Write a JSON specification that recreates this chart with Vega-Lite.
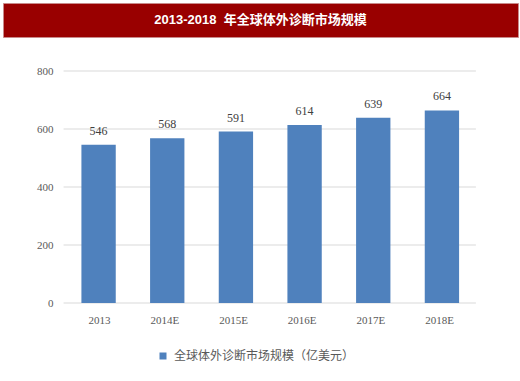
{
  "$schema": "https://vega.github.io/schema/vega-lite/v6.json",
  "background": "white",
  "padding": {"left": 2, "top": 2, "right": 0, "bottom": 0},
  "vconcat": [
    {
      "width": 515,
      "height": 34,
      "view": {"fill": "#990000", "stroke": "#c98a8a", "strokeWidth": 1},
      "data": {"values": [{"t": "2013-2018\u00a0\u00a0年全球体外诊断市场规模"}]},
      "mark": {"type": "text", "color": "white", "fontWeight": "bold", "fontSize": 13, "font": "Liberation Sans, Noto Sans CJK SC"},
      "encoding": {"text": {"field": "t"}}
    },
    {
      "width": 515,
      "height": 232,
      "layer": [
        {
          "data": {"values": [{"v": 0}, {"v": 200}, {"v": 400}, {"v": 600}, {"v": 800}]},
          "mark": {"type": "rule", "color": "#d9d9d9", "strokeWidth": 1, "xOffset": -35, "x2Offset": 34},
          "encoding": {
            "x": {"datum": "2013", "type": "nominal"},
            "x2": {"datum": "2018E"},
            "y": {"field": "v", "type": "quantitative"}
          }
        },
        {
          "data": {"name": "bars"},
          "mark": {"type": "bar", "color": "#4F81BD"},
          "encoding": {
            "x": {"field": "year", "type": "nominal", "sort": null, "title": null,
              "scale": {"domain": ["2013", "2014E", "2015E", "2016E", "2017E", "2018E"], "paddingInner": 0.5, "paddingOuter": 1.022, "align": 0.571},
              "axis": {"labelAngle": 0, "labelOffset": 12, "domain": false, "ticks": false, "labelPadding": 17, "labelFont": "Liberation Serif", "labelFontSize": 11, "labelColor": "#595959"}},
            "y": {"field": "value", "type": "quantitative", "title": null,
              "scale": {"domain": [0, 800]},
              "axis": {"values": [0, 200, 400, 600, 800], "offset": -62, "domain": false, "ticks": false, "grid": false, "labelPadding": 12, "labelFont": "Liberation Serif", "labelFontSize": 11, "labelColor": "#595959"}},
            "color": {"field": "series", "type": "nominal", "title": null,
              "scale": {"range": ["#4F81BD"]},
              "legend": {"orient": "none", "legendX": 154, "legendY": 347, "padding": 0, "symbolType": "square", "symbolSize": 49, "symbolStrokeWidth": 0, "labelOffset": 5, "labelLimit": 400, "labelFont": "Noto Sans CJK SC", "labelFontSize": 12, "labelColor": "#595959"}}
          }
        },
        {
          "data": {"name": "bars"},
          "mark": {"type": "text", "baseline": "middle", "dy": -14, "font": "Liberation Serif", "fontSize": 12, "color": "#404040"},
          "encoding": {
            "x": {"field": "year", "type": "nominal", "sort": null},
            "y": {"field": "value", "type": "quantitative"},
            "text": {"field": "value", "type": "quantitative"}
          }
        }
      ]
    }
  ],
  "datasets": {
    "bars": [
      {"year": "2013", "value": 546, "series": "全球体外诊断市场规模（亿美元）"},
      {"year": "2014E", "value": 568, "series": "全球体外诊断市场规模（亿美元）"},
      {"year": "2015E", "value": 591, "series": "全球体外诊断市场规模（亿美元）"},
      {"year": "2016E", "value": 614, "series": "全球体外诊断市场规模（亿美元）"},
      {"year": "2017E", "value": 639, "series": "全球体外诊断市场规模（亿美元）"},
      {"year": "2018E", "value": 664, "series": "全球体外诊断市场规模（亿美元）"}
    ]
  },
  "spacing": 27,
  "config": {"view": {"stroke": null}}
}
